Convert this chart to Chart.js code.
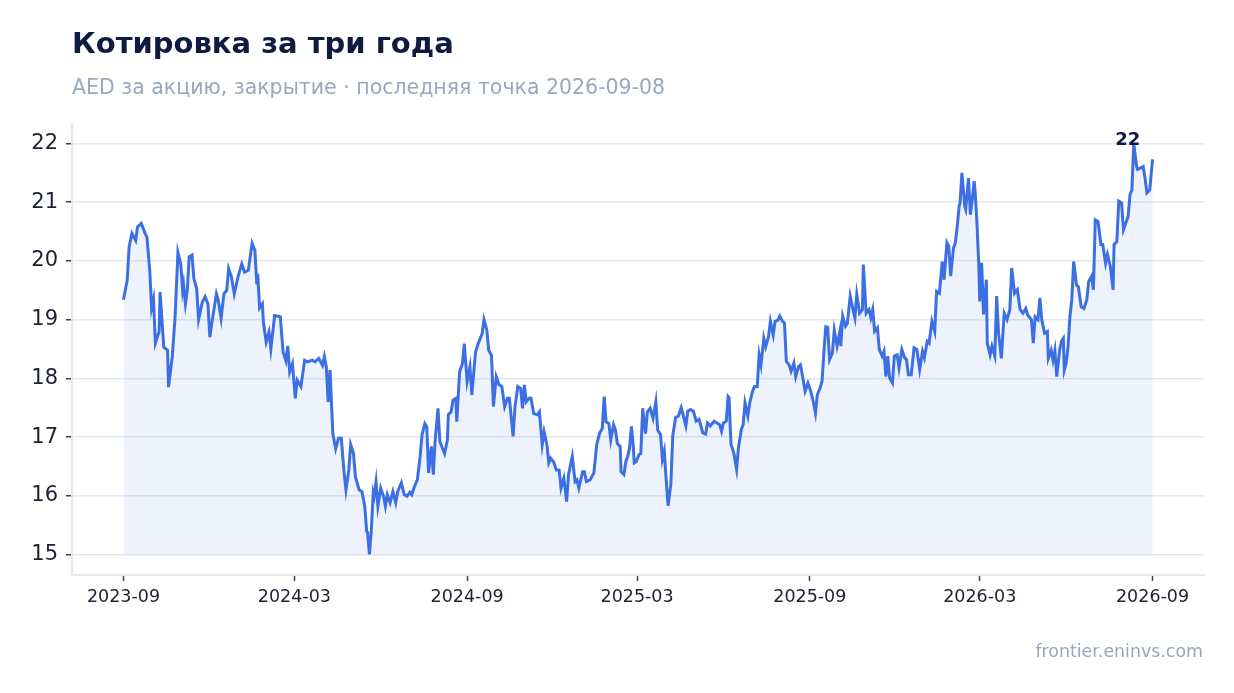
<!DOCTYPE html>
<html lang="ru">
<head>
<meta charset="utf-8">
<title>Котировка за три года</title>
<script src="https://cdn.jsdelivr.net/npm/chart.js@4.4.1/dist/chart.umd.min.js"></script>
<style>
  html, body { margin: 0; padding: 0; background: #fff; }
  body { width: 1234px; height: 693px; position: relative; overflow: hidden; font-family: 'DejaVu Sans', sans-serif; }
  #chart { position: absolute; left: 0; top: 0; }
  .txt { position: absolute; line-height: 1; white-space: nowrap; }
  #title { left: 72px; top: 29px; font-size: 29px; font-weight: bold; color: #0e1a3f; }
  #subtitle { left: 72px; top: 77px; font-size: 20.5px; color: #9ba7bc; }
  #source { right: 31px; top: 643px; font-size: 17.4px; color: #9aa6bb; }
</style>
</head>
<body>
<canvas id="chart" width="1234" height="693"></canvas>
<div class="txt" id="title">Котировка за три года</div>
<div class="txt" id="subtitle">AED за акцию, закрытие · последняя точка 2026-09-08</div>
<div class="txt" id="source">frontier.eninvs.com</div>
<script>
// Days counted from the first trading day shown
const startDate = '2023-09-01';

const days = [
  0, 4, 6, 9, 13, 15, 19, 23, 25, 28, 30, 32, 34, 38, 39, 43, 47, 48, 52, 55,
  58, 61, 63, 64, 66, 68, 70, 73, 75, 78, 80, 84, 87, 90, 92, 94, 99, 101, 104, 107,
  110, 112, 115, 118, 122, 126, 129, 133, 137, 140, 142, 143, 145, 148, 149, 152, 155, 157, 161, 167,
  170, 173, 175, 177, 180, 183, 185, 189, 193, 196, 201, 204, 208, 212, 214, 216, 218, 220, 223, 226,
  229, 232, 235, 237, 240, 242, 245, 247, 251, 254, 257, 259, 260, 262, 264, 266, 267, 269, 271, 274,
  277, 279, 281, 284, 287, 290, 292, 296, 299, 302, 305, 307, 310, 313, 316, 318, 321, 323, 325, 328,
  330, 332, 335, 337, 339, 342, 345, 346, 349, 351, 354, 355, 358, 361, 363, 366, 369, 371, 375, 378,
  382, 384, 387, 389, 392, 394, 397, 400, 403, 406, 409, 411, 415, 417, 420, 423, 425, 427, 429, 432,
  434, 437, 441, 443, 446, 448, 451, 453, 455, 458, 461, 464, 466, 469, 472, 474, 478, 481, 483, 485,
  489, 491, 493, 497, 501, 504, 507, 510, 512, 514, 517, 519, 522, 524, 526, 529, 530, 533, 535, 537,
  539, 541, 543, 544, 546, 549, 551, 553, 556, 558, 561, 564, 567, 569, 572, 574, 576, 578, 580, 583,
  585, 588, 591, 594, 596, 599, 601, 604, 607, 610, 613, 615, 617, 620, 622, 625, 629, 632, 635, 637,
  639, 642, 644, 645, 647, 650, 653, 655, 658, 660, 662, 665, 667, 670, 672, 675, 677, 679, 682, 684,
  687, 689, 692, 694, 697, 699, 702, 704, 706, 709, 711, 714, 716, 719, 721, 723, 726, 729, 732, 735,
  737, 739, 742, 744, 746, 748, 750, 752, 755, 757, 760, 763, 764, 766, 769, 771, 774, 777, 779, 781,
  784, 787, 788, 791, 794, 796, 798, 800, 803, 805, 808, 810, 812, 814, 816, 819, 821, 824, 826, 829,
  832, 834, 836, 839, 842, 845, 848, 851, 853, 856, 858, 861, 864, 866, 869, 872, 874, 877, 879, 881,
  884, 886, 888, 890, 891, 893, 896, 897, 900, 902, 904, 906, 907, 909, 911, 912, 914, 916, 919, 920,
  923, 925, 928, 930, 932, 935, 938, 941, 944, 946, 949, 952, 955, 958, 961, 963, 967, 969, 971, 974,
  976, 978, 981, 984, 985, 988, 990, 992, 994, 997, 999, 1001, 1002, 1004, 1006, 1008, 1010, 1012, 1015, 1017,
  1020, 1023, 1026, 1028, 1031, 1033, 1035, 1038, 1041, 1043, 1046, 1048, 1051, 1054, 1055, 1058, 1060, 1063, 1065, 1067,
  1070, 1072, 1074, 1076, 1079, 1080, 1083, 1086, 1088, 1090, 1093, 1096
];

const closes = [
  19.34, 19.67, 20.24, 20.47, 20.35, 20.58, 20.64, 20.47, 20.41, 19.84, 19.2, 19.35, 18.6, 18.8, 19.47, 18.53, 18.48, 17.85, 18.37, 19.05,
  20.15, 19.95, 19.5, 19.6, 19.27, 19.5, 20.07, 20.1, 19.7, 19.53, 19.0, 19.3, 19.39, 19.27, 18.7, 18.93, 19.44, 19.33, 19.02, 19.44,
  19.5, 19.87, 19.73, 19.44, 19.73, 19.95, 19.81, 19.84, 20.3, 20.18, 19.6, 19.78, 19.2, 19.27, 18.96, 18.62, 18.79, 18.5, 19.07, 19.05,
  18.45, 18.3, 18.55, 18.11, 18.25, 17.66, 17.97, 17.86, 18.31, 18.28, 18.31, 18.28, 18.34, 18.22, 18.37, 18.2, 17.6, 18.14, 17.06, 16.8,
  16.98, 16.98, 16.39, 16.1, 16.44, 16.87, 16.72, 16.33, 16.1, 16.07, 15.82, 15.4, 15.37, 15.0, 15.42, 16.05, 15.99, 16.24, 15.82, 16.13,
  15.99, 15.82, 16.02, 15.88, 16.07, 15.88, 16.07, 16.22, 16.02, 15.99, 16.06, 16.02, 16.16, 16.27, 16.67, 17.04, 17.23, 17.18, 16.39, 16.84,
  16.36, 16.95, 17.49, 16.92, 16.84, 16.72, 16.95, 17.38, 17.43, 17.63, 17.66, 17.26, 18.11, 18.25, 18.59, 17.95, 18.2, 17.72, 18.45, 18.6,
  18.76, 19.0, 18.82, 18.48, 18.39, 17.52, 18.03, 17.89, 17.86, 17.52, 17.66, 17.66, 17.01, 17.52, 17.86, 17.83, 17.49, 17.89, 17.6, 17.66,
  17.66, 17.4, 17.38, 17.43, 16.87, 17.09, 16.87, 16.56, 16.64, 16.58, 16.44, 16.44, 16.13, 16.3, 15.9, 16.36, 16.67, 16.24, 16.27, 16.13,
  16.41, 16.41, 16.24, 16.27, 16.39, 16.87, 17.06, 17.15, 17.69, 17.26, 17.23, 16.95, 17.21, 17.12, 16.89, 16.84, 16.41, 16.36, 16.58, 16.67,
  16.81, 17.18, 16.84, 16.56, 16.58, 16.7, 16.72, 17.49, 17.06, 17.43, 17.49, 17.32, 17.6, 17.12, 17.04, 16.62, 16.76, 16.28, 15.83, 16.2,
  17.02, 17.33, 17.36, 17.5, 17.38, 17.19, 17.44, 17.47, 17.44, 17.27, 17.3, 17.19, 17.07, 17.05, 17.24, 17.19, 17.27, 17.24, 17.21, 17.1,
  17.24, 17.27, 17.69, 17.67, 16.88, 16.73, 16.45, 16.82, 17.13, 17.21, 17.58, 17.36, 17.58, 17.78, 17.86, 17.86, 18.4, 18.23, 18.68, 18.54,
  18.71, 18.97, 18.74, 18.97, 18.99, 19.06, 18.97, 18.94, 18.29, 18.23, 18.12, 18.26, 18.03, 18.2, 18.23, 18.06, 17.78, 17.92, 17.78, 17.58,
  17.41, 17.72, 17.84, 17.95, 18.45, 18.88, 18.87, 18.32, 18.43, 18.82, 18.55, 18.8, 18.55, 19.06, 18.89, 18.94, 19.4, 19.17, 19.03, 19.43,
  19.11, 19.17, 19.94, 19.11, 19.17, 19.03, 19.17, 18.8, 18.86, 18.49, 18.38, 18.46, 18.03, 18.38, 18.01, 17.92, 18.38, 18.4, 18.18, 18.49,
  18.35, 18.32, 18.06, 18.06, 18.52, 18.49, 18.15, 18.46, 18.35, 18.63, 18.6, 18.97, 18.8, 19.48, 19.45, 19.99, 19.68, 20.31, 20.25, 19.74,
  20.22, 20.31, 20.59, 20.93, 20.99, 21.5, 20.93, 20.88, 21.41, 20.79, 21.05, 21.36, 21.19, 20.65, 19.91, 19.31, 19.97, 19.09, 19.68, 18.6,
  18.4, 18.55, 18.38, 19.4, 18.77, 18.34, 19.11, 19.0, 19.17, 19.88, 19.45, 19.51, 19.17, 19.11, 19.19, 19.08, 19.0, 18.6, 19.05, 19.0,
  19.37, 19.0, 18.77, 18.8, 18.34, 18.48, 18.31, 18.48, 18.03, 18.48, 18.63, 18.68, 18.14, 18.26, 18.54, 19.05, 19.34, 19.99, 19.59, 19.56,
  19.22, 19.19, 19.34, 19.65, 19.74, 19.51, 20.7, 20.67, 20.28, 20.28, 19.96, 20.11, 19.91, 19.51, 20.28, 20.33, 21.02, 20.99, 20.53, 20.62,
  20.76, 21.13, 21.21, 22.0, 21.61, 21.56, 21.58, 21.61, 21.41, 21.16, 21.21, 21.73
];

const tickMonths = ['2023-09', '2024-03', '2024-09', '2025-03', '2025-09', '2026-03', '2026-09'];
const yTicks = [15, 16, 17, 18, 19, 20, 21, 22];

// Turn month labels into day offsets for the linear x axis
const startMs = Date.parse(startDate + 'T00:00:00Z');
const tickDays = tickMonths.map((m) => Math.round((Date.parse(m + '-01T00:00:00Z') - startMs) / 86400000));

const firstDay = days[0];
const lastDay = days[days.length - 1];
const xPad = (lastDay - firstDay) * 0.05;
const minClose = Math.min(...closes);
const maxClose = Math.max(...closes);
const yPad = (maxClose - minClose) * 0.05;
const peakIndex = closes.indexOf(maxClose);

const ink = '#1c2133';
const spine = '#e3e7ef';

// Draw the rounded peak value above the highest close
const peakLabel = {
  id: 'peakLabel',
  afterDatasetsDraw(chart) {
    const pt = chart.getDatasetMeta(0).data[peakIndex];
    const ctx = chart.ctx;
    ctx.save();
    ctx.font = 'bold 18px "DejaVu Sans"';
    ctx.fillStyle = '#0e1a3f';
    ctx.textAlign = 'center';
    ctx.textBaseline = 'alphabetic';
    ctx.fillText(String(Math.round(maxClose)), pt.x - 6, pt.y + 1);
    ctx.restore();
  }
};

new Chart(document.getElementById('chart'), {
  type: 'line',
  data: {
    datasets: [{
      data: days.map((d, i) => ({ x: d, y: closes[i] })),
      borderColor: '#3b6fe3',
      borderWidth: 3,
      backgroundColor: 'rgba(59, 111, 227, 0.09)',
      fill: { value: minClose },
      pointRadius: 0,
      tension: 0
    }]
  },
  options: {
    responsive: false,
    animation: false,
    layout: { padding: { left: 0, right: 30, top: 123, bottom: 78 } },
    plugins: {
      legend: { display: false },
      tooltip: { enabled: false }
    },
    scales: {
      x: {
        type: 'linear',
        min: firstDay - xPad,
        max: lastDay + xPad,
        afterBuildTicks: (scale) => { scale.ticks = tickDays.map((v) => ({ value: v })); },
        afterFit: (scale) => { scale.height = 40; },
        ticks: {
          autoSkip: false,
          maxRotation: 0,
          padding: 6,
          color: ink,
          font: { family: 'DejaVu Sans', size: 17.5 },
          callback: (v, i) => tickMonths[i]
        },
        grid: { drawOnChartArea: false, drawTicks: true, tickLength: 6, tickColor: '#3a3f4f', tickWidth: 1.5 },
        border: { color: spine, width: 2 }
      },
      y: {
        min: minClose - yPad,
        max: maxClose + yPad,
        afterBuildTicks: (scale) => { scale.ticks = yTicks.map((v) => ({ value: v })); },
        afterFit: (scale) => { scale.width = 72; },
        ticks: {
          padding: 8,
          color: ink,
          font: { family: 'DejaVu Sans', size: 21 }
        },
        grid: { color: '#e4e8f0', lineWidth: 1.5, drawTicks: true, tickLength: 6, tickColor: '#3a3f4f', tickWidth: 1.5 },
        border: { color: spine, width: 2 }
      }
    }
  },
  plugins: [peakLabel]
});
</script>
</body>
</html>
